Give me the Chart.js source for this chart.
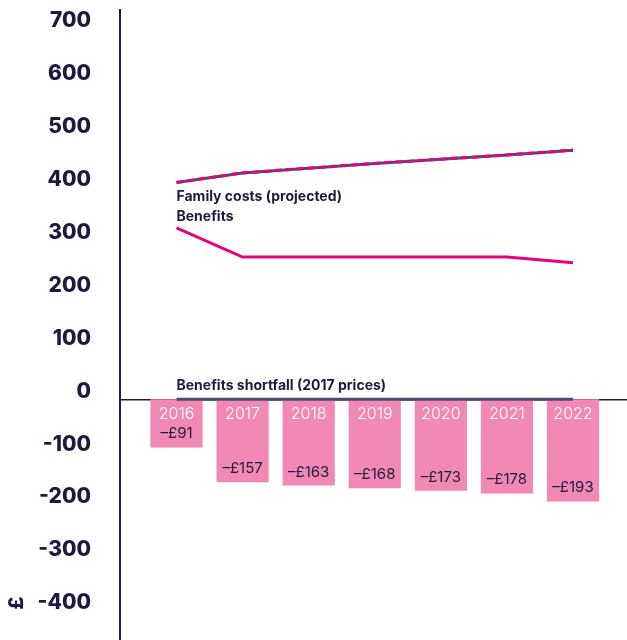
<!DOCTYPE html>
<html>
<head>
<meta charset="utf-8">
<script src="https://cdn.jsdelivr.net/npm/chart.js@4/dist/chart.umd.min.js"></script>
<style>
  html, body { margin: 0; padding: 0; background: #fff; }
  canvas { display: block; }
</style>
</head>
<body>
<canvas id="chart" width="627" height="640"></canvas>
<script>
// Years on the x axis
const years = [2016, 2017, 2018, 2019, 2020, 2021, 2022];

// Weekly amounts, £
const familyCosts = [410, 428, 437, 446, 454, 462, 471];
const benefits = [324, 269, 269, 269, 269, 269, 258];
const shortfallBase = [0, 0, 0, 0, 0, 0, 0];
const shortfall = [-91, -157, -163, -168, -173, -178, -193];

// Y axis tick values
const yTicks = [700, 600, 500, 400, 300, 200, 100, 0, -100, -200, -300, -400];

const navy = '#1c1b3f';
const pink = '#e8007f';
const slate = '#4d4c6e';
const barPink = '#f189b4';

// Draws series names, the bar values and the £ axis title
const chartLabels = {
    id: 'chartLabels',
    afterDraw(chart) {
        const ctx = chart.ctx;
        ctx.save();

        // Series names next to the first point of each line
        ctx.font = 'bold 14px Inter, Lato, sans-serif';
        ctx.fillStyle = navy;
        ctx.textAlign = 'left';
        ctx.textBaseline = 'middle';
        chart.data.datasets.forEach((ds, i) => {
            if (!ds.seriesName) return;
            const pt = chart.getDatasetMeta(i).data[0];
            ctx.fillText(ds.seriesName, pt.x, pt.y + ds.nameShift);
        });

        // Shortfall values near the bottom of each bar
        ctx.font = '15px Inter, Lato, sans-serif';
        ctx.textAlign = 'center';
        chart.getDatasetMeta(0).data.forEach((bar, i) => {
            ctx.fillText('–£' + Math.abs(shortfall[i]), bar.x, bar.y - 13.5);
        });

        // Unit title for the y axis
        ctx.translate(17, 603);
        ctx.rotate(-Math.PI / 2);
        ctx.font = '800 20px Inter, Lato, sans-serif';
        ctx.fillText('£', 0, 0);
        ctx.restore();
    }
};

// Keep label padding from shrinking the plot area
function noPadding(scale) {
    scale.paddingTop = 0;
    scale.paddingBottom = 0;
    scale.paddingLeft = 0;
    scale.paddingRight = 0;
}

const ctx = document.getElementById('chart').getContext('2d');
const chart = new Chart(ctx, {
    data: {
        labels: years,
        datasets: [
            {
                type: 'bar',
                label: 'Benefits shortfall',
                data: shortfall,
                backgroundColor: barPink,
                barPercentage: 0.79,
                categoryPercentage: 1,
                order: 5
            },
            {
                type: 'line',
                label: 'Benefits shortfall (2017 prices)',
                seriesName: 'Benefits shortfall (2017 prices)',
                nameShift: -14,
                data: shortfallBase,
                borderColor: slate,
                borderWidth: 3,
                pointRadius: 0,
                order: 4
            },
            {
                type: 'line',
                label: 'Family costs base',
                data: familyCosts,
                borderColor: slate,
                borderWidth: 3,
                pointRadius: 0,
                order: 3
            },
            {
                type: 'line',
                label: 'Family costs (projected)',
                seriesName: 'Family costs (projected)',
                nameShift: 14.5,
                data: familyCosts,
                borderColor: pink,
                borderWidth: 3,
                borderDash: [7, 4],
                pointRadius: 0,
                order: 2
            },
            {
                type: 'line',
                label: 'Benefits',
                seriesName: 'Benefits',
                nameShift: -11,
                data: benefits,
                borderColor: pink,
                borderWidth: 3,
                pointRadius: 0,
                order: 1
            }
        ]
    },
    options: {
        responsive: false,
        animation: false,
        layout: { padding: { top: 10, right: 0, bottom: 0, left: 0 } },
        plugins: {
            legend: { display: false },
            tooltip: { enabled: false }
        },
        scales: {
            x: {
                type: 'linear',
                position: { y: 0 },
                min: 2015.145,
                max: 2022.817,
                offset: false,
                afterBuildTicks: scale => {
                    scale.ticks = years.map(v => ({ value: v }));
                },
                afterFit: noPadding,
                grid: { display: false, drawTicks: false, offset: false },
                border: { display: true, color: navy, width: 1.5 },
                ticks: {
                    z: 1,
                    color: '#ffffff',
                    padding: 5,
                    autoSkip: false,
                    maxRotation: 0,
                    font: { family: 'Inter', weight: 300, size: 16 },
                    callback: value => String(value)
                }
            },
            y: {
                min: -455,
                max: 736,
                afterBuildTicks: scale => {
                    scale.ticks = yTicks.map(v => ({ value: v }));
                },
                afterFit: scale => {
                    scale.width = 120;
                    noPadding(scale);
                },
                grid: { display: false, drawTicks: false },
                border: { display: true, color: navy, width: 2 },
                ticks: {
                    color: navy,
                    padding: 29,
                    labelOffset: -8,
                    font: { family: 'Inter', weight: 800, size: 21 },
                    callback: value => String(value)
                }
            }
        }
    },
    plugins: [chartLabels]
});
</script>
</body>
</html>
